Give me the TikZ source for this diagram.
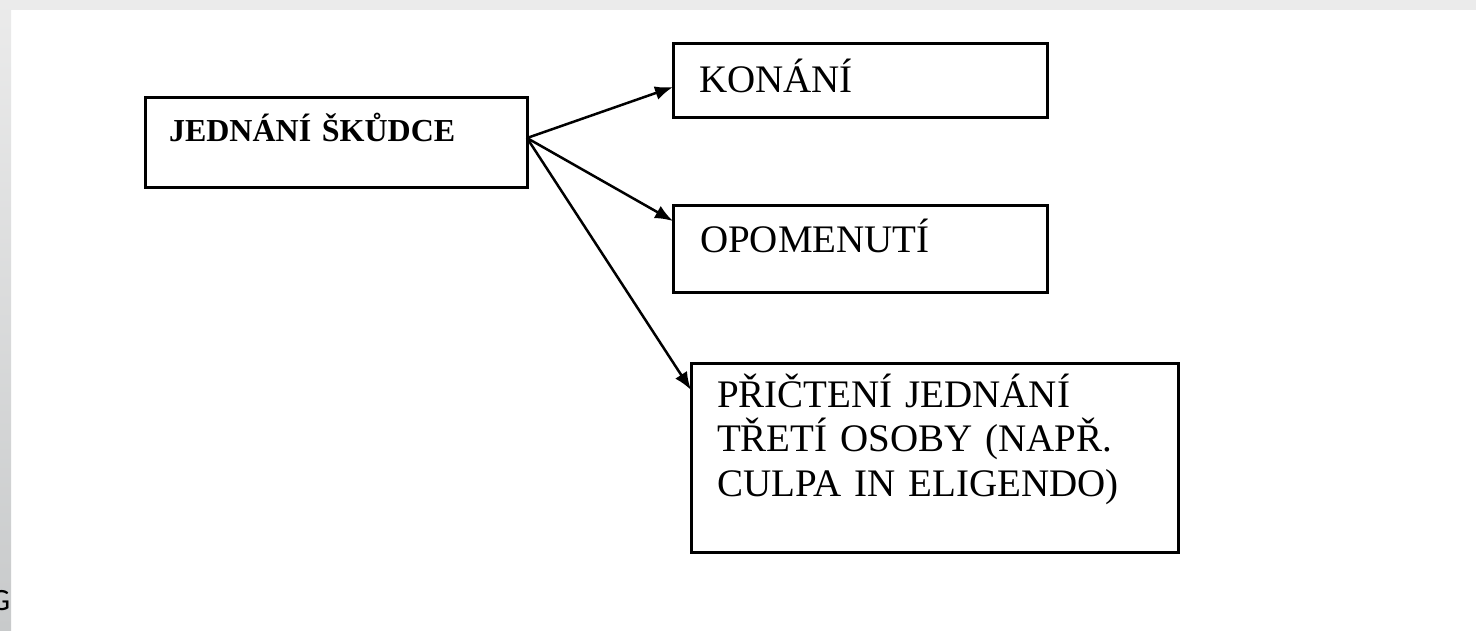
\documentclass[tikz,border=0pt]{standalone}
\usepackage{fontspec}
\setmainfont{Liberation Serif}
\newfontfamily\slidefont{Carlito}
\usetikzlibrary{arrows.meta}
\definecolor{slideband}{HTML}{EBEBEB}
\definecolor{stripdark}{HTML}{C8CACB}
\tikzset{
  box/.style={draw, line width=3pt, outer sep=0pt, anchor=north west, align=left,
    inner ysep=0pt, font=\fontsize{39}{44.5}\selectfont},
  link/.style={black, line width=2.5pt, ->},
}
\begin{document}
\begin{tikzpicture}[x=1pt,y=-1pt,>={Latex[length=18pt,width=14pt]}]
\useasboundingbox (0,0) rectangle (1476,630);
\fill[white] (0,0) rectangle (1476,630);
\fill[slideband] (0,0) rectangle (1476,10);
\shade[top color=slideband, bottom color=stripdark] (0,0) rectangle (11,630);
\node[anchor=base east, inner sep=0pt, font=\slidefont\fontsize{31}{31}\selectfont] (gmark) at (10.5,610) {G};
\node[box, font=\fontsize{32}{38}\selectfont\bfseries, inner xsep=24pt, text width=334pt,
  text height=44pt, text depth=46pt] (skudce) at (145,97) {JEDNÁNÍ ŠKŮDCE};
\node[box, inner xsep=26pt, text width=322pt, text height=49pt, text depth=25pt] (konani) at (673,43) {KONÁNÍ};
\node[box, inner xsep=27pt, text width=320pt, text height=47pt, text depth=40pt] (opomenuti) at (673,205) {OPOMENUTÍ};
\node[box, inner xsep=26pt, text width=435pt, text height=44pt, text depth=145pt] (pricteni) at (691,363)
  {PŘIČTENÍ JEDNÁNÍ\\TŘETÍ OSOBY (NAPŘ.\\CULPA IN ELIGENDO)};
\coordinate (fork) at ([yshift=4pt]skudce.east);
\draw[link] (fork) -- ([yshift=-7pt]konani.west);
\draw[link] (fork) -- ([yshift=-16pt]opomenuti.north west);
\draw[link] (fork) -- ([yshift=-27pt]pricteni.north west);
\end{tikzpicture}
\end{document}
